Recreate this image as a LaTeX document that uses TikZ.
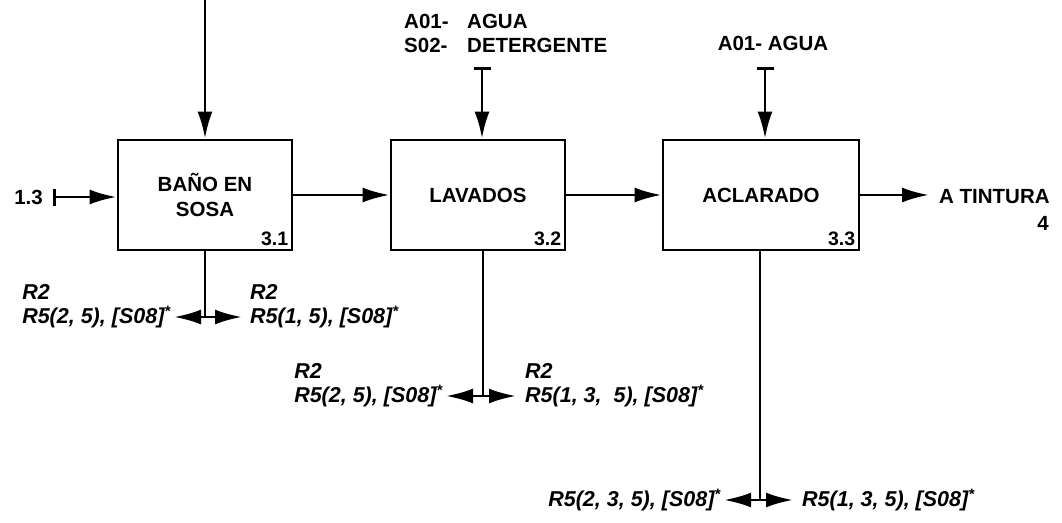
\documentclass[tikz,border=0pt]{standalone}
\usepackage{fontspec}
\setmainfont{Liberation Sans}
\usetikzlibrary{arrows.meta}
\begin{document}
\begin{tikzpicture}[x=1pt,y=-1pt,
 proc/.style={draw,line width=2.8pt,minimum width=174pt,minimum height=110pt,inner sep=0pt,align=center,font=\fontsize{20.5}{25}\selectfont\bfseries},
 lbl/.style={inner sep=2pt,font=\fontsize{20.5}{24}\selectfont\bfseries},
 ilbl/.style={inner sep=3pt,font=\fontsize{21.5}{24}\selectfont\bfseries\itshape},
 num/.style={anchor=south east,inner sep=5pt,font=\fontsize{19.5}{22}\selectfont\bfseries},
 wire/.style={line width=2.8pt},
 flow/.style={wire,-{Latex[length=27pt,width=15pt]}},
 tflow/.style={wire,{Bar[width=17pt]}-{Latex[length=27pt,width=15pt]}}]
\useasboundingbox (0,0) rectangle (1062,522);

% process boxes
\node[proc] (p1) at (205,195) {BAÑO EN\\SOSA};
\node[num] (n1) at (p1.south east) {3.1};
\node[proc] (p2) at (478,195) {LAVADOS};
\node[num] (n2) at (p2.south east) {3.2};
\node[proc,minimum width=196pt] (p3) at (761,195) {ACLARADO};
\node[num] (n3) at (p3.south east) {3.3};

% input 1.3
\node[lbl,anchor=east] (in) at (45,197) {1.3};
\coordinate (inb) at (53,197);
\draw[tflow] (inb) -- (p1.west |- inb);

% top input to box 1
\coordinate (s1) at (205,0);
\draw[flow] (s1) -- (p1.north);

% controls box 2
\node[lbl,anchor=west] (c2a) at (402,21) {A01-};
\node[lbl,anchor=west] (c2b) at (465,21) {AGUA};
\node[lbl,anchor=west] (c2c) at (402,45) {S02-};
\node[lbl,anchor=west] (c2d) at (465,45) {DETERGENTE};
\coordinate (t2) at (482,67);
\draw[tflow] (t2) -- (t2 |- p2.north);

% controls box 3
\node[lbl] (c3) at (773,43) {A01- AGUA};
\coordinate (t3) at (765,67);
\draw[tflow] (t3) -- (t3 |- p3.north);

% main flow
\draw[flow] (p1.east) -- (p2.west);
\draw[flow] (p2.east) -- (p3.west);
\node[lbl,anchor=west] (out) at (937,197) {A TINTURA};
\node[lbl] (out4) at (1043,223) {4};
\draw[flow,shorten >=8pt] (p3.east) -- (p3.east -| out.west);

% outputs box 1
\coordinate (j1) at (205,317);
\draw[wire] (p1.south) -- (j1);
\node[ilbl,anchor=east] (r1l) at (174,317) {R5(2, 5), [S08]\textsuperscript{*}};
\node[ilbl,anchor=south west] (r1lt) at (r1l.north west) {R2};
\node[ilbl,anchor=west] (r1r) at (247,317) {R5(1, 5), [S08]\textsuperscript{*}};
\node[ilbl,anchor=south west] (r1rt) at (r1r.north west) {R2};
\draw[flow] (j1) -- (r1l.east);
\draw[flow,shorten >=5pt] (j1) -- (r1r.west);

% outputs box 2
\coordinate (j2) at (483,396);
\draw[wire] (p2.south -| j2) -- (j2);
\node[ilbl,anchor=east] (r2l) at (446,396) {R5(2, 5), [S08]\textsuperscript{*}};
\node[ilbl,anchor=south west] (r2lt) at (r2l.north west) {R2};
\node[ilbl,anchor=west] (r2r) at (522,396) {R5(1, 3, \ 5), [S08]\textsuperscript{*}};
\node[ilbl,anchor=south west] (r2rt) at (r2r.north west) {R2};
\draw[flow] (j2) -- (r2l.east);
\draw[flow,shorten >=6pt] (j2) -- (r2r.west);

% outputs box 3
\coordinate (j3) at (760,500);
\draw[wire] (p3.south -| j3) -- (j3);
\node[ilbl,anchor=east] (r3l) at (724,500) {R5(2, 3, 5), [S08]\textsuperscript{*}};
\node[ilbl,anchor=west] (r3r) at (799,500) {R5(1, 3, 5), [S08]\textsuperscript{*}};
\draw[flow] (j3) -- (r3l.east);
\draw[flow,shorten >=6pt] (j3) -- (r3r.west);
\end{tikzpicture}
\end{document}
